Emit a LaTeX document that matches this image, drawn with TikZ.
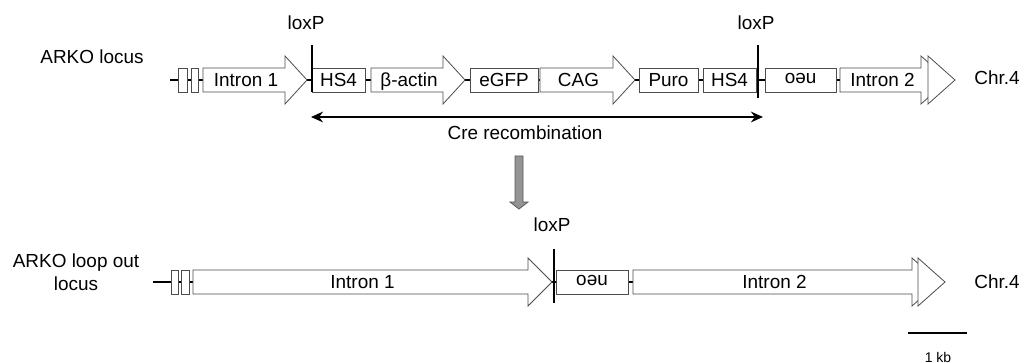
\documentclass[tikz,border=0pt]{standalone}
\usepackage{fontspec}
\setmainfont{Liberation Sans}
\usetikzlibrary{arrows.meta}
\newcommand{\garrow}[6]{% name, start x, shaft end x, tip x, center y, text
  \draw[gene] (#2,#5-12) -- (#3,#5-12) -- (#3,#5-24) -- (#4,#5) -- (#3,#5+24) -- (#3,#5+12) -- (#2,#5+12) -- cycle;
  \node[lbl] (#1) at ({(#2+#3)/2+2},#5) {#6};}
\newcommand{\ghead}[3]{% base x, tip x, center y
  \draw[gene] (#1,#3-24) -- (#2,#3) -- (#1,#3+24) -- cycle;}
\newcommand{\gbox}[5]{% name, x1, x2, y, text
  \draw[gene] (#2,#4-12) rectangle (#3,#4+12);
  \node[lbl] (#1) at ({(#2+#3)/2},#4) {#5};}
\begin{document}
\begin{tikzpicture}[x=0.75pt,y=-0.75pt,
  gene/.style={draw=black!70, fill=white, line width=0.6pt, line join=miter},
  lbl/.style={inner sep=0pt, text height=10.2pt, text depth=0.8pt, font=\fontsize{14.2}{17}\selectfont},
  txt/.style={inner sep=0pt, font=\fontsize{14.2}{17}\selectfont, align=center},
  backbone/.style={draw=black, line width=0.8pt},
  loxline/.style={draw=black, line width=1.5pt},
  crearrow/.style={draw=black, line width=2pt, {Stealth[length=9pt,width=8pt]}-{Stealth[length=9pt,width=8pt]}},
  scalebar/.style={draw=black, line width=1.6pt}]
\useasboundingbox (0,0) rectangle (1024,363);

% ---------- top row ----------
\coordinate (t0) at (170,80);
\coordinate (t1) at (845,80);
\draw[backbone] (t0) -- (t1);
\draw[gene] (178,68) rectangle (187,92);
\draw[gene] (191,68) rectangle (198,92);
\garrow{tI1}{203}{285}{307}{80}{Intron 1}
\gbox{tHS4a}{312}{365}{80}{HS4}
\garrow{tBact}{371}{443}{465}{80}{β-actin}
\gbox{tGFP}{470}{538}{80}{eGFP}
\garrow{tCAG}{540}{613}{635}{80}{CAG}
\gbox{tPuro}{639}{698}{80}{Puro}
\gbox{tHS4b}{703}{756}{80}{HS4}
\draw[gene] (765,68) rectangle (836,92);
\node[lbl, rotate=180] (tneo) at (800.5,80) {neo};
\garrow{tI2}{840}{921}{948}{80}{Intron 2}
\ghead{928}{955}{80}
\coordinate (lx1b) at (312,92);
\coordinate (lx1t) at (312,45);
\coordinate (lx2b) at (758,98);
\coordinate (lx2t) at (758,45);
\draw[loxline] (lx1b) -- (lx1t);
\draw[loxline] (lx2b) -- (lx2t);
\node[txt] (lox1) at (306,23) {loxP};
\node[txt] (lox2) at (756,23) {loxP};
\node[txt] (chrA) at (997,78) {Chr.4};
\node[txt] (arko) at (92,57) {ARKO locus};

% Cre recombination
\coordinate (creL) at (311,117);
\coordinate (creR) at (763,117);
\draw[crearrow] (creL) -- (creR);
\node[txt] (cre) at (525,133) {Cre recombination};

% gray arrow
\draw[fill=black!42, draw=black!65, line width=0.6pt]
  (515,156) -- (523,156) -- (523,202) -- (528,202) -- (519,209) -- (510,202) -- (515,202) -- cycle;

% ---------- bottom row ----------
\coordinate (b0) at (153,282);
\coordinate (b1) at (640,282);
\draw[backbone] (b0) -- (b1);
\draw[gene] (171,270) rectangle (178,294);
\draw[gene] (181,270) rectangle (189,294);
\garrow{bI1}{193}{528}{552}{282}{Intron 1}
\draw[gene] (556,270) rectangle (628,294);
\node[lbl, rotate=180] (bneo) at (592,282) {neo};
\garrow{bI2}{633}{912}{939}{282}{Intron 2}
\ghead{918}{945}{282}
\coordinate (lx3b) at (554,303);
\coordinate (lx3t) at (554,249);
\draw[loxline] (lx3b) -- (lx3t);
\node[txt] (lox3) at (552,225) {loxP};
\node[txt] (chrB) at (997,282) {Chr.4};
\node[txt] (arko2) at (76,272) {ARKO loop out\\locus};

% scale bar
\coordinate (sb0) at (908,333);
\coordinate (sb1) at (967,333);
\draw[scalebar] (sb0) -- (sb1);
\node[inner sep=0pt, font=\fontsize{10.5}{12}\selectfont] (kb) at (938,357) {1 kb};
\end{tikzpicture}
\end{document}
